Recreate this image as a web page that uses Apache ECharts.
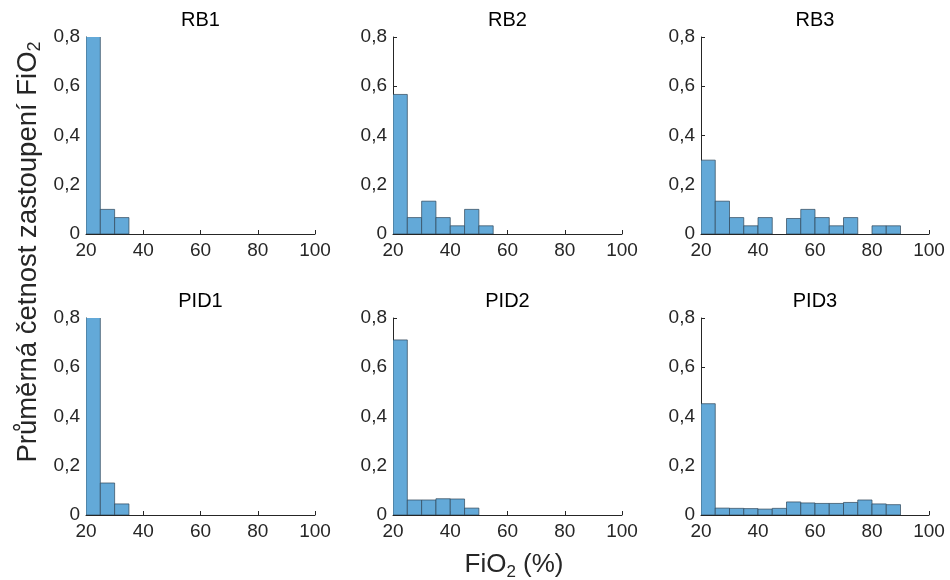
<!DOCTYPE html>
<html>
<head>
<meta charset="utf-8">
<script src="https://cdn.jsdelivr.net/npm/echarts@6/dist/echarts.min.js"></script>
<style>
  html, body { margin: 0; padding: 0; background: #ffffff; }
  #chart { width: 950px; height: 580px; }
</style>
</head>
<body>
<div id="chart"></div>
<script>
// FiO2 histogram bins: 5 % wide, starting at 20 %
const binStarts = [20, 25, 30, 35, 40, 45, 50, 55, 60, 65, 70, 75, 80, 85];
const binWidth = 5;

// Mean relative frequency per bin for each controller
const panelNames = ['RB1', 'RB2', 'RB3', 'PID1', 'PID2', 'PID3'];
const rb1  = [0.8333, 0.1, 0.0667, 0, 0, 0, 0, 0, 0, 0, 0, 0, 0, 0];
const rb2  = [0.5667, 0.0667, 0.1333, 0.0667, 0.0333, 0.1, 0.0333, 0, 0, 0, 0, 0, 0, 0];
const rb3  = [0.3, 0.1333, 0.0667, 0.0333, 0.0667, 0, 0.063, 0.1, 0.0667, 0.0333, 0.0667, 0, 0.0333, 0.0333];
const pid1 = [0.825, 0.13, 0.045, 0, 0, 0, 0, 0, 0, 0, 0, 0, 0, 0];
const pid2 = [0.711, 0.061, 0.061, 0.066, 0.065, 0.028, 0, 0, 0, 0, 0, 0, 0, 0];
const pid3 = [0.452, 0.028, 0.027, 0.026, 0.024, 0.027, 0.053, 0.049, 0.047, 0.047, 0.051, 0.061, 0.045, 0.042];
const panelValues = [rb1, rb2, rb3, pid1, pid2, pid3];

// Axis ticks
const xTicks = [20, 40, 60, 80, 100];
const yTicks = [0, 0.2, 0.4, 0.6, 0.8];

const FONT = '"Liberation Sans", Arial, Helvetica, sans-serif';
const INK = '#262626';

// Panel placement (pixels)
const colLeft = [86, 393, 701];
const colWidth = [229, 229, 228];
const rowTop = [37, 318];
const rowHeight = 197;

const grids = [], xAxes = [], yAxes = [], series = [], graphics = [];

panelValues.forEach(function (vals, i) {
  const c = i % 3, r = Math.floor(i / 3);
  grids.push({ left: colLeft[c], top: rowTop[r], width: colWidth[c], height: rowHeight, containLabel: false });

  xAxes.push({
    gridIndex: i, type: 'value',
    min: xTicks[0], max: xTicks[xTicks.length - 1], interval: xTicks[1] - xTicks[0],
    axisLine: { show: true, onZero: false, lineStyle: { color: INK, width: 1 } },
    axisTick: { show: true, inside: true, length: 4, lineStyle: { color: INK } },
    axisLabel: { color: INK, fontSize: 19, fontFamily: FONT, margin: 7 },
    splitLine: { show: false }
  });
  yAxes.push({
    gridIndex: i, type: 'value',
    min: yTicks[0], max: yTicks[yTicks.length - 1], interval: yTicks[1] - yTicks[0],
    axisLine: { show: true, lineStyle: { color: INK, width: 1 } },
    axisTick: { show: true, inside: true, length: 4, lineStyle: { color: INK } },
    axisLabel: {
      color: INK, fontSize: 19, fontFamily: FONT, margin: 6,
      formatter: function (v) { return v === 0 ? '0' : String(+v.toFixed(1)).replace('.', ','); }
    },
    splitLine: { show: false }
  });

  series.push({
    type: 'custom',
    xAxisIndex: i, yAxisIndex: i,
    clip: true,
    data: binStarts.map(function (b, k) { return [b, b + binWidth, vals[k]]; }).filter(function (d) { return d[2] > 0; }),
    encode: { x: [0, 1], y: 2 },
    renderItem: function (params, api) {
      const p0 = api.coord([api.value(0), 0]);
      const p1 = api.coord([api.value(1), api.value(2)]);
      return {
        type: 'rect',
        shape: { x: p0[0], y: p1[1], width: p1[0] - p0[0], height: p0[1] - p1[1] },
        style: { fill: '#63a9d8', stroke: '#2e4558', lineWidth: 0.7 }
      };
    },
    silent: true
  });

  graphics.push({
    type: 'text',
    x: colLeft[c] + colWidth[c] / 2,
    y: rowTop[r] - 27,
    style: { text: panelNames[i], fill: '#000000', font: '20px ' + FONT, textAlign: 'center', textVerticalAlign: 'top' }
  });
});

// Shared axis titles
graphics.push({
  type: 'text',
  x: 514, y: 565,
  style: {
    text: 'FiO{sub|2} (%)',
    fill: INK, font: '26px ' + FONT, textAlign: 'center', textVerticalAlign: 'middle',
    rich: { sub: { fontSize: 17, fontFamily: FONT, fill: INK, padding: [14, 0, 0, 0] } }
  }
});
graphics.push({
  type: 'text',
  x: 28, y: 252,
  rotation: Math.PI / 2,
  style: {
    text: 'Průměrná četnost zastoupení FiO{sub|2}',
    fill: INK, font: '27.5px ' + FONT, textAlign: 'center', textVerticalAlign: 'middle',
    rich: { sub: { fontSize: 18, fontFamily: FONT, fill: INK, padding: [14, 0, 0, 0] } }
  }
});

const chart = echarts.init(document.getElementById('chart'), null, { renderer: 'canvas' });
chart.setOption({
  animation: false,
  backgroundColor: '#ffffff',
  grid: grids,
  xAxis: xAxes,
  yAxis: yAxes,
  series: series,
  graphic: graphics
});
</script>
</body>
</html>
